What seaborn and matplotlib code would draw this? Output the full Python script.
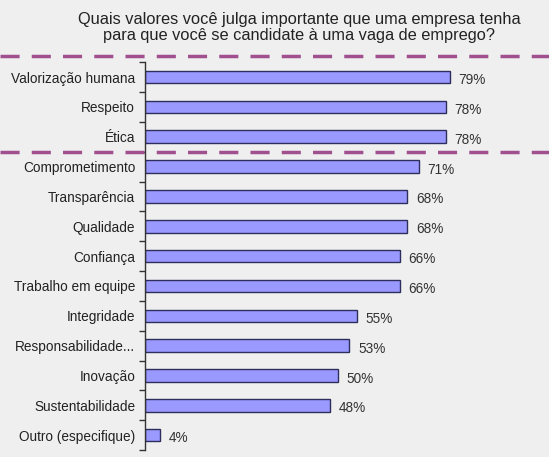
import matplotlib
matplotlib.use("Agg")
import matplotlib.pyplot as plt
import seaborn as sns
import pandas as pd
import numpy as np
from matplotlib.lines import Line2D
from matplotlib.ticker import FixedLocator

categories = ["Valorização humana", "Respeito", "Ética", "Comprometimento",
              "Transparência", "Qualidade", "Confiança", "Trabalho em equipe",
              "Integridade", "Responsabilidade...", "Inovação", "Sustentabilidade",
              "Outro (especifique)"]
values = [79, 78, 78, 71, 68, 68, 66, 66, 55, 53, 50, 48, 4]
value_labels = ["79%", "78%", "78%", "71%", "68%", "68%", "66%", "66%",
                "55%", "53%", "50%", "48%", "4%"]
title = "Quais valores você julga importante que uma empresa tenha\npara que você se candidate à uma vaga de emprego?"

sns.set_theme(style="white")
plt.rcParams['font.family'] = ['Liberation Sans', 'DejaVu Sans']

bg = "#efefef"
fig = plt.figure(figsize=(5.49, 4.57), dpi=100, facecolor=bg)
ax = fig.add_axes([0.264, 0.015, 0.703, 0.849])
ax.set_facecolor(bg)

df = pd.DataFrame({"cat": categories, "val": values})
sns.barplot(data=df, y="cat", x="val", orient="h", color="#9999ff",
            edgecolor="#2e2e5e", linewidth=1.0, width=0.42, saturation=1, ax=ax)

for i, (v, lab) in enumerate(zip(values, value_labels)):
    ax.text(v + 2.2, i + 0.1, lab, va="center", ha="left", fontsize=9.8, color="#333333")

ax.set_xlim(0, 100)
ax.set_ylim(len(categories) - 0.5, -0.5)
ax.set_xlabel("")
ax.set_ylabel("")
ax.set_xticks([])
for s in ["top", "right", "bottom"]:
    ax.spines[s].set_visible(False)
ax.spines["left"].set_color("#333333")
ax.spines["left"].set_linewidth(1.0)
ax.tick_params(axis="y", which="major", length=0, labelsize=9.8, labelcolor="#222222", pad=7)
ax.yaxis.set_minor_locator(FixedLocator(np.arange(-0.5, len(categories), 1.0)))
ax.tick_params(axis="y", which="minor", length=4, width=1, color="#333333", left=True)

fig.text(0.545, 0.94, title, ha="center", va="center", fontsize=11.8,
         color="#222222", linespacing=1.1)

for yy in [1 - 56 / 457, 1 - 152 / 457]:
    fig.add_artist(Line2D([0, 1], [yy, yy], transform=fig.transFigure,
                          color="#a0508f", lw=2.5, linestyle=(0, (5.5, 3.5))))

fig.savefig("out.png", dpi=100, facecolor=bg)
